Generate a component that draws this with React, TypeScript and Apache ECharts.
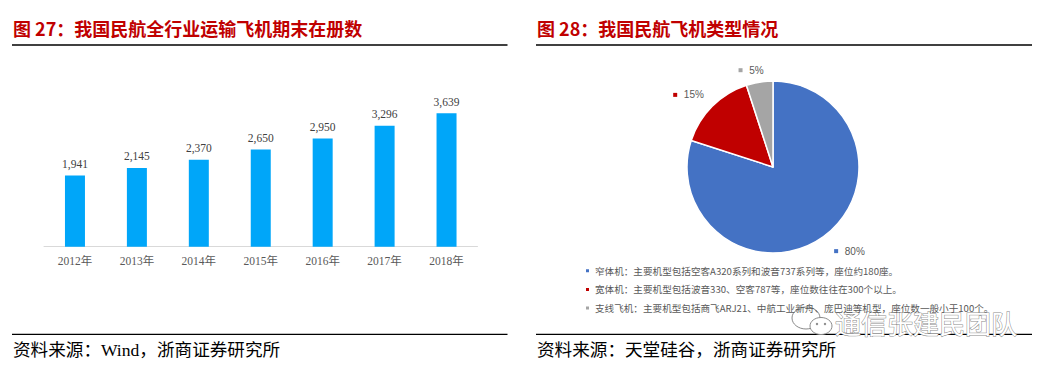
import React, { useEffect, useRef } from "react";
import * as echarts from "echarts";

const years = ["2012年", "2013年", "2014年", "2015年", "2016年", "2017年", "2018年"];
const fleet = [1941, 2145, 2370, 2650, 2950, 3296, 3639];

const typeNames = [
  "窄体机：主要机型包括空客A320系列和波音737系列等，座位约180座。",
  "宽体机：主要机型包括波音330、空客787等，座位数往往在300个以上。",
  "支线飞机：主要机型包括商飞ARJ21、中航工业新舟、庞巴迪等机型，座位数一般小于100个。",
];
const typeShares = [80, 15, 5];
const typeColors = ["#4472C4", "#C00000", "#A5A5A5"];

const title1 = "图 27：我国民航全行业运输飞机期末在册数";
const title2 = "图 28：我国民航飞机类型情况";
const source1 = "资料来源：Wind，浙商证券研究所";
const source2 = "资料来源：天堂硅谷，浙商证券研究所";
const watermark = "通信张建民团队";

const CJK = '"Noto Sans CJK SC", "Noto Sans", sans-serif';
const SERIF = '"Liberation Serif", "Noto Sans CJK SC", serif';

export default function App() {
  const ref = useRef<HTMLDivElement>(null);
  useEffect(() => {
    if (!ref.current) return;
    const chart = echarts.init(ref.current, null, { renderer: "svg" });
    const fmt = (v: number) => v.toLocaleString("en-US");
    const labelTweaks = [
      { len: 18, dist: 0 },
      { len: 16, dist: -3 },
      { len: 12, dist: -6 },
    ];
    const rich: any = {
      t: { fontSize: 10, color: "#595959", fontFamily: '"Liberation Sans", "Noto Sans", sans-serif' },
    };
    typeColors.forEach((c, i) => {
      rich["m" + i] = { width: 4, height: 4, backgroundColor: c };
    });
    const hline = (x1: number, x2: number, y: number) => ({
      type: "line",
      shape: { x1, y1: y, x2, y2: y },
      style: { stroke: "#000", lineWidth: 1.3 },
    });
    const txt = (x: number, y: number, text: string, font: string, size: number, color: string, weight = "normal") => ({
      type: "text",
      x,
      y,
      style: { text, fill: color, font: `${weight} ${size}px ${font}`, textVerticalAlign: "middle" },
    });
    chart.setOption({
      animation: false,
      backgroundColor: "#fff",
      grid: { left: 44, right: 569.5, top: 100, bottom: 122.3 },
      xAxis: {
        type: "category",
        data: years,
        axisLine: { lineStyle: { color: "#D9D9D9", width: 1 } },
        axisTick: { show: false },
        axisLabel: { fontFamily: SERIF, fontSize: 11.5, color: "#595959", margin: 9 },
      },
      yAxis: { type: "value", min: 0, max: 4000, show: false, splitLine: { show: false } },
      legend: {
        orient: "vertical",
        left: 579,
        top: 261,
        icon: "rect",
        itemWidth: 5,
        itemHeight: 5,
        itemGap: 9,
        data: typeNames,
        selectedMode: false,
        textStyle: { fontSize: 9.6, color: "#595959", fontFamily: CJK },
      },
      series: [
        {
          type: "bar",
          data: fleet,
          barWidth: 20,
          itemStyle: { color: "#00A6F9" },
          label: {
            show: true,
            position: "top",
            distance: 6,
            fontFamily: SERIF,
            fontSize: 11.5,
            color: "#404040",
            formatter: (p: any) => fmt(p.value),
          },
        },
        {
          type: "pie",
          center: [773, 167],
          radius: 86,
          startAngle: 90,
          clockwise: true,
          avoidLabelOverlap: false,
          itemStyle: { borderColor: "#fff", borderWidth: 1.5 },
          labelLine: { show: false, length2: 0 },
          data: typeNames.map((n, i) => ({
            name: n,
            value: typeShares[i],
            itemStyle: { color: typeColors[i] },
            labelLine: { show: false, length: labelTweaks[i].len, length2: 0 },
            label: { distanceToLabelLine: labelTweaks[i].dist },
          })),
          label: {
            show: true,
            position: "outside",
            formatter: (p: any) => `{m${p.dataIndex}|}  {t|${p.value}%}`,
            rich,
          },
          emphasis: { disabled: true },
        },
      ],
      graphic: [
        txt(13, 28, title1, CJK, 18, "#C00000", "bold"),
        txt(537, 28, title2, CJK, 18, "#C00000", "bold"),
        hline(12, 507.5, 45),
        hline(536, 1032, 45),
        hline(12, 507.5, 334.3),
        hline(536, 1032, 334.3),
        txt(13, 350, source1, SERIF, 17.6, "#000"),
        txt(537, 350, source2, SERIF, 17.6, "#000"),
        {
          type: "group",
          z: 100,
          children: [
            { type: "ellipse", shape: { cx: 806, cy: 318, rx: 14, ry: 11 }, style: { fill: "#fff", stroke: "#8a8a8a", lineWidth: 1 } },
            { type: "ellipse", shape: { cx: 821, cy: 326, rx: 11, ry: 8.5 }, style: { fill: "#fff", stroke: "#8a8a8a", lineWidth: 1 } },
            { type: "circle", shape: { cx: 817, cy: 324, r: 1.2 }, style: { fill: "#8a8a8a" } },
            { type: "circle", shape: { cx: 825, cy: 324, r: 1.2 }, style: { fill: "#8a8a8a" } },
            {
              type: "text",
              x: 835,
              y: 322,
              style: {
                text: watermark,
                font: `normal 26px ${CJK}`,
                fill: "#fff",
                stroke: "#8a8a8a",
                lineWidth: 1,
                textVerticalAlign: "middle",
              },
            },
          ],
        },
      ],
    });
    return () => chart.dispose();
  }, []);
  return (
    <div
      ref={ref}
      style={{ position: "fixed", left: 0, top: 0, width: 1047, height: 369, background: "#fff" }}
    />
  );
}
